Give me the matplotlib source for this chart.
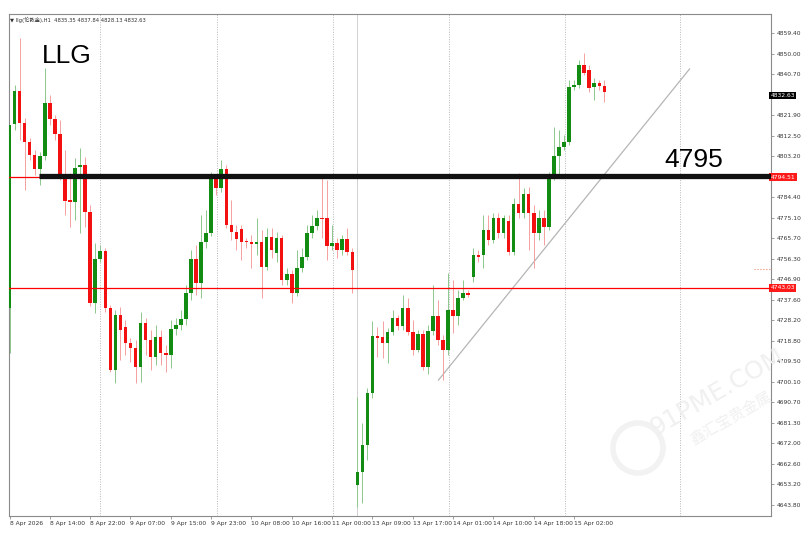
import matplotlib
matplotlib.use("Agg")
import matplotlib.pyplot as plt
from matplotlib.patches import Circle
import numpy as np

# H1 candles, 8 Apr 06:00 -> 15 Apr 08:00 (one row per bar: open, high, low, close)
opens = [4733.9, 4817.9, 4833.2, 4818.6, 4809.9, 4803.8, 4797.2, 4803.3, 4827.7, 4820.1,
         4813.4, 4794.6, 4783.2, 4782.4, 4798.2, 4799.2, 4777.9, 4736.0, 4756.1, 4760.0,
         4733.7, 4705.5, 4730.6, 4725.3, 4717.7, 4715.4, 4707.0, 4727.1, 4719.2, 4711.6,
         4720.7, 4713.4, 4712.4, 4724.1, 4726.1, 4728.7, 4740.6, 4756.1, 4745.4, 4764.2,
         4768.3, 4792.7, 4788.6, 4797.2, 4771.8, 4768.7, 4769.8, 4764.2, 4764.2, 4763.0,
         4764.2, 4752.7, 4766.2, 4758.9, 4765.7, 4746.6, 4749.4, 4740.6, 4752.0, 4757.3,
         4768.0, 4771.3, 4774.9, 4774.9, 4762.2, 4763.4, 4760.4, 4765.3, 4759.6, 4652.9,
         4659.0, 4671.2, 4695.1, 4721.0, 4720.5, 4718.0, 4723.0, 4729.1, 4725.6, 4733.7,
         4723.0, 4714.6, 4722.0, 4706.7, 4723.5, 4730.2, 4719.2, 4714.6, 4732.9, 4730.2,
         4738.3, 4740.8, 4748.2, 4758.1, 4758.1, 4769.5, 4764.9, 4774.9, 4768.0, 4773.8,
         4759.6, 4781.4, 4777.1, 4786.0, 4777.4, 4768.3, 4774.9, 4771.0, 4794.2, 4803.3,
         4807.6, 4809.9, 4834.7, 4835.8, 4844.9, 4842.6, 4835.0, 4836.8, 4835.35]
highs = [4817.5, 4835.8, 4857.3, 4820.7, 4811.6, 4806.1, 4805.2, 4843.4, 4831.2, 4822.1,
         4819.8, 4806.1, 4795.6, 4802.4, 4807.0, 4803.0, 4780.9, 4763.6, 4762.6, 4761.3,
         4735.2, 4732.9, 4734.3, 4728.4, 4720.1, 4719.2, 4732.0, 4729.3, 4723.8, 4726.1,
         4723.8, 4716.9, 4728.4, 4729.3, 4732.9, 4744.4, 4760.4, 4762.6, 4776.4, 4778.6,
         4796.0, 4794.6, 4801.5, 4799.2, 4783.2, 4771.8, 4771.8, 4765.8, 4767.2, 4775.0,
         4769.5, 4770.4, 4770.4, 4768.6, 4767.2, 4752.1, 4751.2, 4760.4, 4761.3, 4771.8,
         4776.4, 4778.6, 4793.3, 4792.4, 4771.8, 4765.8, 4767.2, 4770.4, 4761.3, 4693.3,
         4681.3, 4697.3, 4728.0, 4725.3, 4728.0, 4724.7, 4732.9, 4730.6, 4739.8, 4738.4,
         4728.4, 4723.8, 4723.8, 4726.1, 4744.4, 4737.5, 4721.5, 4749.8, 4746.6, 4742.1,
         4746.6, 4742.1, 4761.3, 4760.4, 4776.4, 4776.4, 4777.3, 4777.3, 4776.4, 4776.4,
         4784.1, 4795.6, 4788.7, 4789.2, 4780.9, 4778.6, 4778.6, 4796.0, 4816.7, 4815.2,
         4812.9, 4838.1, 4838.1, 4847.2, 4850.3, 4844.9, 4839.0, 4838.1, 4837.84]
lows = [4713.3, 4815.2, 4810.6, 4787.8, 4801.5, 4794.6, 4790.1, 4801.5, 4817.5, 4810.6,
        4792.4, 4776.4, 4771.0, 4774.1, 4768.1, 4771.0, 4734.8, 4731.6, 4754.9, 4732.0,
        4704.6, 4699.6, 4710.1, 4712.4, 4709.2, 4699.6, 4700.0, 4712.4, 4705.5, 4707.8,
        4707.8, 4704.7, 4706.4, 4721.5, 4723.8, 4726.1, 4737.5, 4739.8, 4738.4, 4761.3,
        4766.8, 4785.5, 4786.9, 4770.4, 4764.9, 4760.4, 4755.8, 4761.3, 4752.1, 4758.1,
        4738.4, 4751.2, 4756.7, 4754.9, 4744.4, 4744.4, 4736.1, 4739.3, 4750.3, 4755.8,
        4765.8, 4769.5, 4765.8, 4755.8, 4760.4, 4756.7, 4758.1, 4758.1, 4740.6, 4643.0,
        4644.7, 4664.4, 4692.7, 4711.6, 4711.0, 4708.9, 4721.5, 4723.8, 4723.8, 4721.5,
        4712.4, 4713.7, 4705.5, 4703.7, 4721.5, 4716.9, 4700.9, 4712.4, 4722.4, 4726.1,
        4737.5, 4738.9, 4745.7, 4754.9, 4752.1, 4762.6, 4763.5, 4765.8, 4765.8, 4758.1,
        4758.1, 4775.0, 4775.0, 4760.4, 4752.0, 4764.9, 4762.6, 4769.5, 4792.4, 4794.2,
        4806.1, 4808.4, 4833.5, 4834.4, 4840.4, 4832.6, 4828.9, 4833.5, 4828.13]
closes = [4817.5, 4833.2, 4818.6, 4809.9, 4803.8, 4797.2, 4803.5, 4827.7, 4820.1, 4813.4,
          4794.6, 4782.9, 4782.4, 4797.7, 4799.2, 4777.9, 4736.0, 4756.1, 4760.0, 4733.7,
          4705.5, 4730.6, 4723.8, 4717.7, 4715.4, 4707.0, 4727.1, 4719.2, 4711.6, 4720.7,
          4713.1, 4712.4, 4724.1, 4726.1, 4728.7, 4740.6, 4756.1, 4745.4, 4764.2, 4768.3,
          4792.7, 4788.6, 4797.2, 4771.8, 4768.7, 4765.3, 4764.2, 4763.8, 4763.0, 4764.2,
          4752.7, 4766.2, 4760.4, 4765.7, 4746.6, 4749.4, 4740.6, 4752.0, 4757.3, 4768.0,
          4771.3, 4774.9, 4774.3, 4762.2, 4763.4, 4760.4, 4765.3, 4759.6, 4751.2, 4659.0,
          4671.2, 4695.1, 4721.0, 4720.0, 4718.0, 4723.0, 4729.1, 4725.6, 4733.7, 4723.0,
          4714.6, 4722.0, 4706.7, 4723.5, 4730.2, 4719.2, 4714.6, 4732.9, 4730.2, 4738.3,
          4740.8, 4740.0, 4758.1, 4757.3, 4769.5, 4764.9, 4774.9, 4768.0, 4774.9, 4759.6,
          4781.4, 4777.1, 4786.0, 4777.4, 4768.3, 4774.9, 4771.0, 4794.2, 4803.3, 4807.6,
          4809.9, 4834.7, 4835.8, 4844.9, 4841.4, 4834.3, 4836.8, 4835.3, 4832.63]

time_labels = ["8 Apr 2026", "8 Apr 14:00", "8 Apr 22:00", "9 Apr 07:00", "9 Apr 15:00",
               "9 Apr 23:00", "10 Apr 08:00", "10 Apr 16:00", "11 Apr 00:00", "13 Apr 09:00",
               "13 Apr 17:00", "14 Apr 01:00", "14 Apr 10:00", "14 Apr 18:00", "15 Apr 02:00"]
price_ticks = [4643.80, 4653.20, 4662.60, 4672.00, 4681.30, 4690.70, 4700.10, 4709.50,
               4718.80, 4728.20, 4737.60, 4746.90, 4756.30, 4765.70, 4775.10, 4784.40,
               4803.20, 4812.50, 4821.90, 4840.70, 4850.00, 4859.40]

resistance = 4794.2      # hand drawn 4795 level
upper_line = 4793.7      # 4794.51 horizontal line
lower_line = 4743.1      # 4743.03 horizontal line
last_price = 4830.9
trend_x = [85.1, 134.9]
trend_y = [4700.9, 4843.1]
grid_bars = [17.9, 41.1, 64.1, 87.1, 110.1, 133.0]

GREEN = "#128c12"
RED = "#f21010"

fig = plt.figure(figsize=(8.1, 5.34), dpi=100)
ax = fig.add_axes([9 / 810, 1 - 515.7 / 534, 761.7 / 810, 501.4 / 534])

x = np.arange(len(opens))
o = np.array(opens)
c = np.array(closes)
up = c >= o
body_col = np.where(up, GREEN, RED)
wick_col = np.where(up, "#8cc88c", "#f5a0a0")

for gx in grid_bars:
    ax.axvline(gx, color="#b8b8b8", lw=0.7, ls=(0, (1, 1.5)), zorder=0)
ax.axvline(69.0, color="#d0d0d0", lw=0.7, zorder=0)

ax.vlines(x, lows, highs, colors=wick_col, lw=0.7, zorder=2)
heights = np.maximum(np.abs(c - o), 0.5)
ax.bar(x, heights, bottom=np.minimum(o, c), width=0.7, color=body_col, lw=0, zorder=3)

ax.axhline(upper_line, color="red", lw=0.9, zorder=4)
ax.axhline(lower_line, color="red", lw=0.9, zorder=4)
ax.plot([5.9, 152], [resistance, resistance], color="#111111", lw=3.8,
        solid_capstyle="butt", zorder=5)
ax.plot(trend_x, trend_y, color="#b5b5b5", lw=0.9, zorder=1)
ax.plot([147.7, 151.0], [4751.5, 4751.5], color="#f08a6a", lw=0.8, ls=":", zorder=1)

ax.text(6.5, 4845.8, "LLG", fontsize=19, family="Liberation Sans", va="baseline", zorder=6)
ax.text(130.0, 4798.3, "4795", fontsize=19, family="Liberation Sans", va="baseline", zorder=6)

ax.set_xlim(-0.1, 151.0)
ax.set_ylim(4638.9, 4868.1)

ax.set_xticks(np.arange(0, 113, 8))
ax.set_xticklabels(time_labels)
for lab in ax.get_xticklabels():
    lab.set_horizontalalignment("left")
ax.yaxis.tick_right()
ax.set_yticks(price_ticks)
ax.set_yticklabels([f"{v:.2f}" for v in price_ticks])
ax.tick_params(axis="both", labelsize=4.3, labelcolor="#333333", length=2,
               width=0.5, color="#777777", pad=2)
for s in ax.spines.values():
    s.set_color("#8a8a8a")
    s.set_linewidth(0.8)

ytr = ax.get_yaxis_transform()
for lvl, txt, bg in [(upper_line, "4794.51", "#ff1a1a"), (lower_line, "4743.03", "#ff1a1a"),
                     (last_price, "4832.63", "#000000")]:
    ax.text(1.0, lvl, txt, transform=ytr, fontsize=4.3, color="white", ha="left",
            va="center", bbox=dict(facecolor=bg, edgecolor="none", pad=0.9), clip_on=False)

fig.text(10 / 810, 1 - 19.5 / 534, "▼ llg(伦敦金),H1  4835.35 4837.84 4828.13 4832.63",
         fontsize=3.8, color="#333333", va="center",
         family=["DejaVu Sans", "Noto Sans CJK SC"])

# watermark
fig.text(717 / 810, 1 - 392 / 534, "91PME.COM", fontsize=18, color="#f0f0f0",
         rotation=30, ha="center", va="center", zorder=10)
fig.text(731 / 810, 1 - 418 / 534, "鑫汇宝贵金属", fontsize=11, color="#f0f0f0",
         rotation=30, ha="center", va="center", family=["Noto Sans CJK SC"], zorder=10)
fig.patches.append(Circle((638, 534 - 448), 25, transform=None, fill=False,
                          lw=4, ec="#f2f2f2", zorder=10))

fig.savefig("out.png", dpi=100)
